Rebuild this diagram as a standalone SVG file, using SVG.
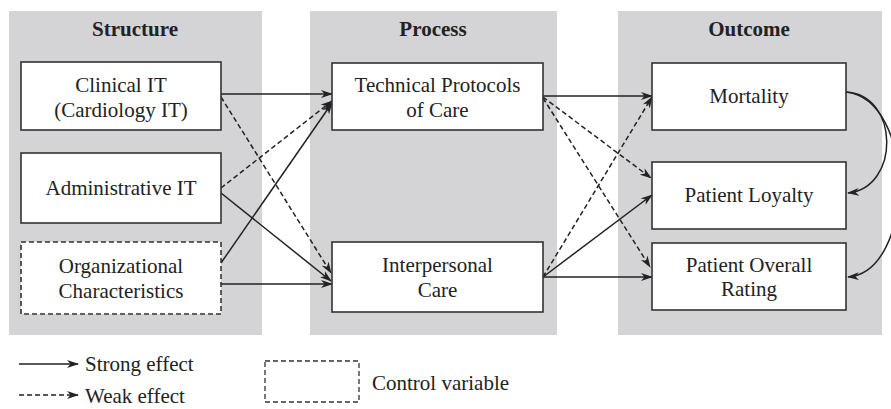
<svg xmlns="http://www.w3.org/2000/svg" width="891" height="409" viewBox="0 0 891 409">
<defs>
<marker id="ah" viewBox="0 0 12 8" markerWidth="12" markerHeight="8" refX="11" refY="4" orient="auto" markerUnits="userSpaceOnUse">
<path d="M0,0 L12,4 L0,8 L3.5,4 z" fill="#222"/>
</marker>
<style>
.panel{fill:#d4d4d6}
.box{fill:#fff;stroke:#333;stroke-width:1.6}
.ctrl{stroke-dasharray:5,3}
text{font-family:"Liberation Serif","Times New Roman",serif;font-size:21px;fill:#222;text-anchor:middle}
.title{font-weight:bold}
.lg{text-anchor:start}
.s{fill:none;stroke:#222;stroke-width:1.5;marker-end:url(#ah)}
.d{fill:none;stroke:#222;stroke-width:1.5;stroke-dasharray:5,3;marker-end:url(#ah)}
</style>
</defs>
<rect width="891" height="409" fill="#fff"/>
<g id="panels">
<rect class="panel" x="9" y="11" width="253" height="324"/>
<rect class="panel" x="310" y="11" width="247" height="324"/>
<rect class="panel" x="618" y="11" width="264" height="324"/>
<text class="title" x="135" y="36">Structure</text>
<text class="title" x="433" y="36">Process</text>
<text class="title" x="749" y="36">Outcome</text>
</g>
<g id="connectors">
<path class="s" d="M221,94 L332,94"/>
<path class="d" d="M221,97 L331,273"/>
<path class="d" d="M221,188 L332,101"/>
<path class="s" d="M221,193 L331,281"/>
<path class="s" d="M221,263 L332,103"/>
<path class="s" d="M221,284 L332,284"/>
<path class="s" d="M543,96 L652,96"/>
<path class="d" d="M543,97 L651,178"/>
<path class="d" d="M543,98 L650,267"/>
<path class="d" d="M543,277 L652,97"/>
<path class="s" d="M543,277 L652,195"/>
<path class="s" d="M543,277 L652,277"/>
<path class="s" d="M846,92 C900,95 900,188 848,193"/>
<path class="s" d="M846,92 C917,100 915,272 848,277"/>
</g>
<g id="clinical-it">
<rect class="box" x="21" y="62" width="200" height="68"/>
<text x="121" y="92">Clinical IT</text>
<text x="121" y="117">(Cardiology IT)</text>
</g>
<g id="administrative-it">
<rect class="box" x="21" y="153" width="200" height="70"/>
<text x="121" y="195">Administrative IT</text>
</g>
<g id="organizational">
<rect class="box ctrl" x="21" y="242" width="200" height="72"/>
<text x="121" y="273">Organizational</text>
<text x="121" y="298">Characteristics</text>
</g>
<g id="technical">
<rect class="box" x="332" y="63" width="211" height="67"/>
<text x="437.5" y="92">Technical Protocols</text>
<text x="437.5" y="117">of Care</text>
</g>
<g id="interpersonal">
<rect class="box" x="332" y="242" width="211" height="70"/>
<text x="437.5" y="272">Interpersonal</text>
<text x="437.5" y="297">Care</text>
</g>
<g id="mortality">
<rect class="box" x="652" y="63" width="194" height="67"/>
<text x="749" y="103">Mortality</text>
</g>
<g id="loyalty">
<rect class="box" x="652" y="162" width="194" height="67"/>
<text x="749" y="202">Patient Loyalty</text>
</g>
<g id="overall">
<rect class="box" x="652" y="243" width="194" height="67"/>
<text x="749" y="272">Patient Overall</text>
<text x="749" y="296">Rating</text>
</g>
<g id="legend">
<path class="s" d="M19,364 L78,364"/>
<text class="lg" x="85" y="371">Strong effect</text>
<path class="d" d="M19,395 L78,395"/>
<text class="lg" x="85" y="403">Weak effect</text>
<rect class="box ctrl" x="265" y="361" width="94" height="41" style="stroke-width:1.3"/>
<text class="lg" x="372" y="390">Control variable</text>
</g>
</svg>
